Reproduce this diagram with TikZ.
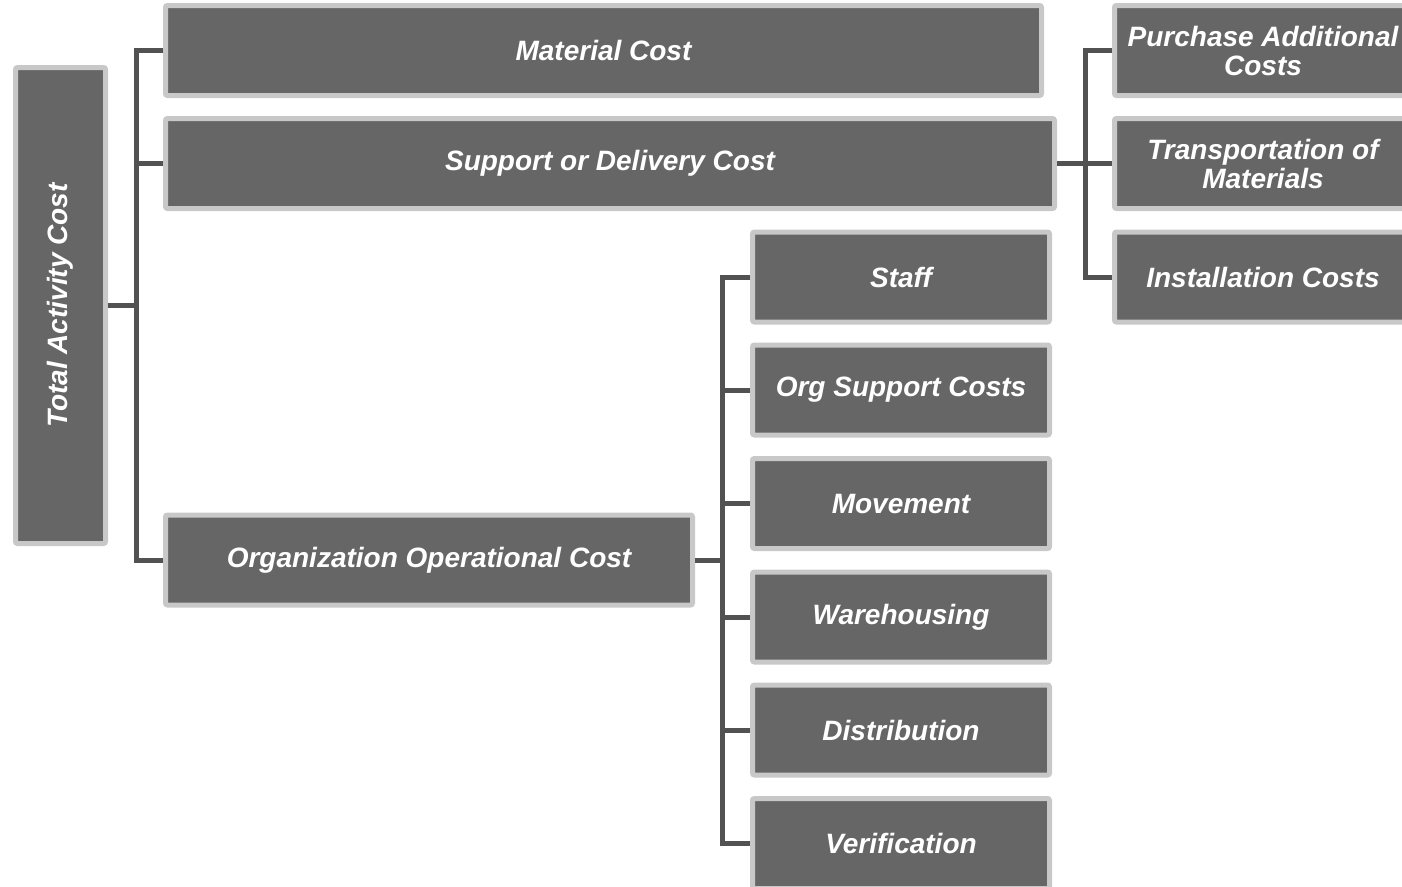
\documentclass[tikz,border=0pt]{standalone}
\usepackage{fontspec}
\setmainfont{Liberation Sans}
\usepackage{tikz}

\definecolor{boxfill}{HTML}{666666}
\definecolor{boxrim}{HTML}{C8C8C8}
\definecolor{linkgray}{HTML}{525252}

\begin{document}
\begin{tikzpicture}[x=1pt, y=-1pt,
    costbox/.style={draw=boxrim, fill=boxfill, line width=5pt, rounded corners=2pt,
      text=white, font=\fontsize{28}{29}\selectfont\bfseries\itshape,
      align=center, minimum height=90pt, inner sep=0pt},
    link/.style={draw=linkgray, line width=5pt}]
  \useasboundingbox (0,0) rectangle (1402,886);
  % root
  \node[costbox, minimum width=476pt, minimum height=90pt, rotate=90] (total) at (60.5,305.5) {Total Activity Cost};
  % first level
  \node[costbox, minimum width=876pt] (material) at (603.5,50.5) {Material Cost};
  \node[costbox, minimum width=889pt] (support) at (610,163.5) {Support or Delivery Cost};
  \node[costbox, minimum width=527pt] (organization) at (429,560) {Organization Operational Cost};
  % support branch
  \node[costbox, minimum width=297pt] (purchase) at (1263,50.5) {Purchase Additional\\Costs};
  \node[costbox, minimum width=297pt] (transport) at (1263,163.5) {Transportation of\\Materials};
  \node[costbox, minimum width=297pt] (install) at (1263,277) {Installation Costs};
  % organization branch
  \node[costbox, minimum width=297pt] (staff) at (901,277) {Staff};
  \node[costbox, minimum width=297pt] (orgsupport) at (901,390) {Org Support Costs};
  \node[costbox, minimum width=297pt] (movement) at (901,503.5) {Movement};
  \node[costbox, minimum width=297pt] (warehouse) at (901,617) {Warehousing};
  \node[costbox, minimum width=297pt] (distrib) at (901,730) {Distribution};
  \node[costbox, minimum width=297pt] (verif) at (901,843.5) {Verification};
  % buses
  \coordinate (rootbus) at (136,305.5);
  \coordinate (supbus) at (1085,163.5);
  \coordinate (orgbus) at (722,560);
  \draw[link] (total.south) -- (rootbus);
  \draw[link] (material.west) -| (rootbus);
  \draw[link] (support.west) -| (rootbus);
  \draw[link] (organization.west) -| (rootbus);
  \draw[link] (support.east) -- (supbus);
  \draw[link] (purchase.west) -| (supbus);
  \draw[link] (transport.west) -| (supbus);
  \draw[link] (install.west) -| (supbus);
  \draw[link] (organization.east) -- (orgbus);
  \foreach \n in {staff,orgsupport,movement,warehouse,distrib,verif}
    \draw[link] (\n.west) -| (orgbus);
\end{tikzpicture}
\end{document}
